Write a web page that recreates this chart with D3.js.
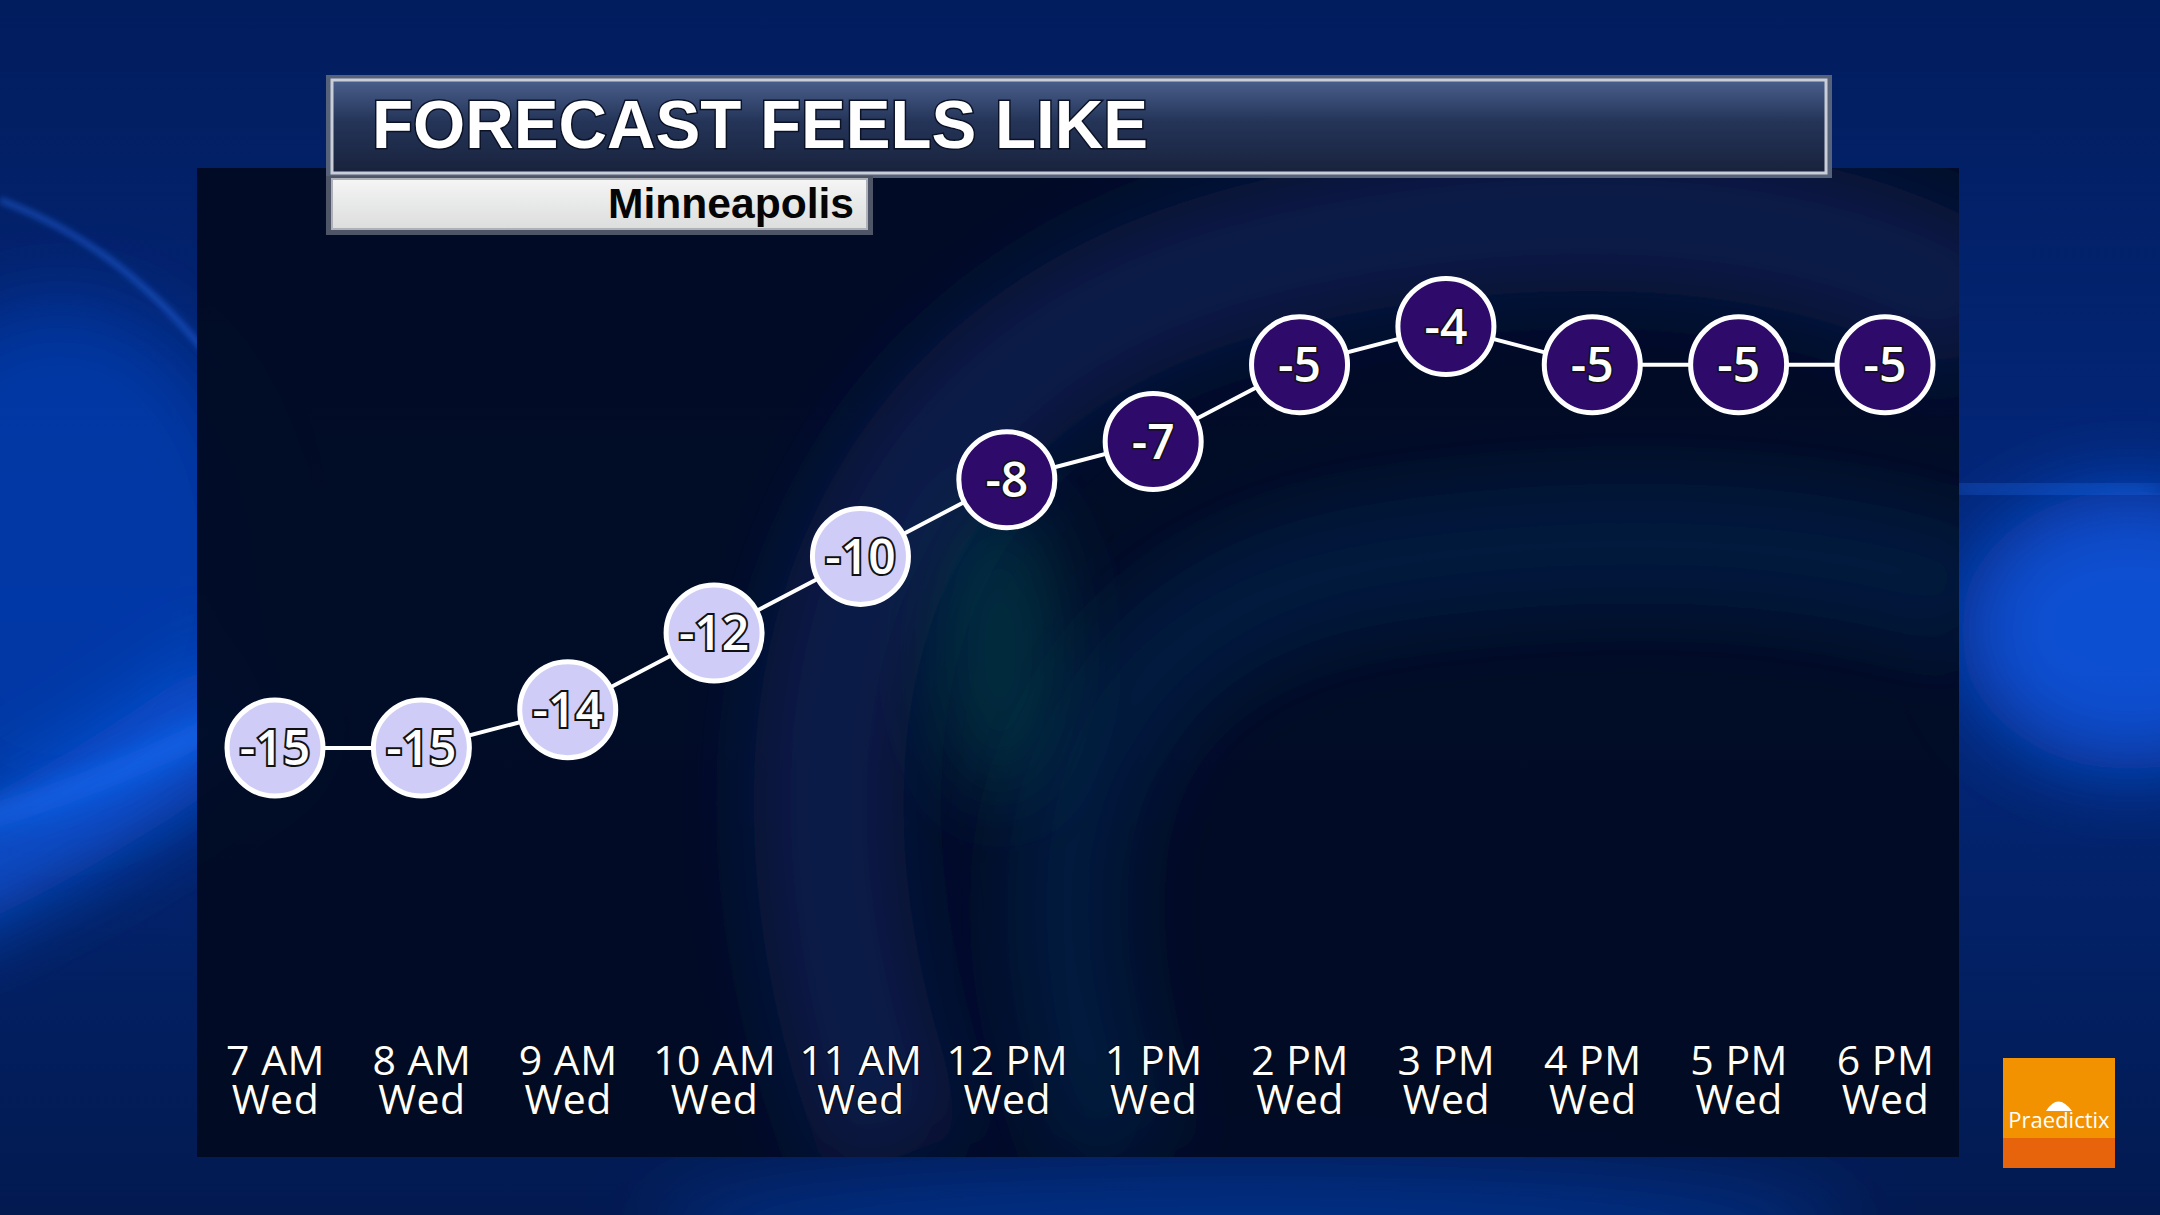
<!DOCTYPE html>
<html>
<head>
<meta charset="utf-8">
<script src="https://cdn.jsdelivr.net/npm/d3@7"></script>
<style>
  html, body { margin: 0; padding: 0; background: #021c58; }
  svg { display: block; }
</style>
</head>
<body>
<svg id="chart" width="2160" height="1215"></svg>
<script>
// data
var hours = ['7 AM','8 AM','9 AM','10 AM','11 AM','12 PM','1 PM','2 PM','3 PM','4 PM','5 PM','6 PM'];
var days = ['Wed','Wed','Wed','Wed','Wed','Wed','Wed','Wed','Wed','Wed','Wed','Wed'];
var feelsLike = [-15,-15,-14,-12,-10,-8,-7,-5,-4,-5,-5,-5];
var title = 'FORECAST FEELS LIKE';
var city = 'Minneapolis';

var W = 2160, H = 1215;
var svg = d3.select('#chart');
var defs = svg.append('defs');

// blur filters for the soft background shapes
defs.append('filter').attr('id','blurBig').attr('x','-50%').attr('y','-50%').attr('width','200%').attr('height','200%')
  .append('feGaussianBlur').attr('stdDeviation',40);
defs.append('filter').attr('id','blurMid').attr('x','-50%').attr('y','-50%').attr('width','200%').attr('height','200%')
  .append('feGaussianBlur').attr('stdDeviation',12);
defs.append('filter').attr('id','blurSmall').attr('x','-50%').attr('y','-50%').attr('width','200%').attr('height','200%')
  .append('feGaussianBlur').attr('stdDeviation',3);

var bg = defs.append('linearGradient').attr('id','bg').attr('x1',0).attr('y1',0).attr('x2',0).attr('y2',1);
bg.append('stop').attr('offset','0%').attr('stop-color','#021d5e');
bg.append('stop').attr('offset','50%').attr('stop-color','#03287e');
bg.append('stop').attr('offset','100%').attr('stop-color','#021a50');

var titleGrad = defs.append('linearGradient').attr('id','titleGrad').attr('x1',0).attr('y1',0).attr('x2',0).attr('y2',1);
titleGrad.append('stop').attr('offset','0%').attr('stop-color','#4a5f8c');
titleGrad.append('stop').attr('offset','45%').attr('stop-color','#243458');
titleGrad.append('stop').attr('offset','100%').attr('stop-color','#18223c');

var subGrad = defs.append('linearGradient').attr('id','subGrad').attr('x1',0).attr('y1',0).attr('x2',0).attr('y2',1);
subGrad.append('stop').attr('offset','0%').attr('stop-color','#f4f5f4');
subGrad.append('stop').attr('offset','100%').attr('stop-color','#dcdedd');

svg.append('rect').attr('width',W).attr('height',H).attr('fill','url(#bg)');

// background light bands
var back = svg.append('g');
back.append('ellipse')   // general left glow
  .attr('cx',60).attr('cy',560).attr('rx',200).attr('ry',260)
  .attr('fill','#0940b8').attr('fill-opacity',0.7).attr('filter','url(#blurBig)');
back.append('path')   // broad bright band lower left, rising to the right
  .attr('d','M-100,900 C40,840 150,770 260,690')
  .attr('fill','none').attr('stroke','#0a5ae6').attr('stroke-width',110).attr('stroke-opacity',0.8)
  .attr('filter','url(#blurBig)');
back.append('path')
  .attr('d','M-60,830 C60,800 150,760 230,720')
  .attr('fill','none').attr('stroke','#1272ff').attr('stroke-width',24).attr('stroke-opacity',0.55)
  .attr('filter','url(#blurMid)');
back.append('path')   // thin streak upper left
  .attr('d','M0,200 C80,230 150,280 220,370')
  .attr('fill','none').attr('stroke','#2a6cf0').attr('stroke-width',5).attr('stroke-opacity',0.6)
  .attr('filter','url(#blurSmall)');
back.append('ellipse')   // right glow
  .attr('cx',2130).attr('cy',630).attr('rx',170).attr('ry',140)
  .attr('fill','#0b55e0').attr('fill-opacity',0.85).attr('filter','url(#blurBig)');
back.append('path')
  .attr('d','M1950,486 L2160,492')
  .attr('fill','none').attr('stroke','#2a78ff').attr('stroke-width',14).attr('stroke-opacity',0.55)
  .attr('filter','url(#blurMid)');
back.append('ellipse')   // bottom glow
  .attr('cx',1250).attr('cy',1230).attr('rx',600).attr('ry',60)
  .attr('fill','#0a48c0').attr('fill-opacity',0.5).attr('filter','url(#blurBig)');

// dark chart panel
var panel = {x:197, y:168, w:1762, h:989};
svg.append('rect').attr('x',panel.x).attr('y',panel.y).attr('width',panel.w).attr('height',panel.h)
  .attr('fill','#010b22').attr('fill-opacity',0.95);

// soft swirl inside the panel, clipped to it
defs.append('clipPath').attr('id','panelClip').append('rect')
  .attr('x',panel.x).attr('y',panel.y).attr('width',panel.w).attr('height',panel.h);
var swirl = svg.append('g').attr('clip-path','url(#panelClip)');
swirl.append('path')
  .attr('d','M900,1157 C760,800 800,380 1250,260 C1600,170 1900,230 2000,330')
  .attr('fill','none').attr('stroke','#0d2c66').attr('stroke-width',150).attr('stroke-opacity',0.55)
  .attr('filter','url(#blurBig)');
swirl.append('path')
  .attr('d','M1120,1157 C1000,850 1080,600 1400,560 C1700,520 1900,560 1990,600')
  .attr('fill','none').attr('stroke','#0c2a60').attr('stroke-width',120).attr('stroke-opacity',0.45)
  .attr('filter','url(#blurBig)');
swirl.append('ellipse')
  .attr('cx',1000).attr('cy',650).attr('rx',60).attr('ry',150)
  .attr('fill','#0a4a55').attr('fill-opacity',0.55).attr('filter','url(#blurBig)');

// title bar
svg.append('rect').attr('x',326).attr('y',75).attr('width',1506).attr('height',103).attr('fill','#56627a');
svg.append('rect').attr('x',332).attr('y',80).attr('width',1494).attr('height',93).attr('fill','url(#titleGrad)')
  .attr('stroke','#c9ced8').attr('stroke-width',3);
svg.append('text').attr('x',372).attr('y',148)
  .attr('font-family','"Liberation Sans", Arial, sans-serif').attr('font-weight','bold')
  .attr('font-size',68).attr('fill','#ffffff')
  .attr('textLength',776).attr('lengthAdjust','spacingAndGlyphs')
  .style('paint-order','stroke').attr('stroke','#0b1226').attr('stroke-width',3)
  .text(title);

// subtitle bar
svg.append('rect').attr('x',326).attr('y',176).attr('width',547).attr('height',59).attr('fill','#4e5566');
svg.append('rect').attr('x',332).attr('y',179).attr('width',535).attr('height',50).attr('fill','url(#subGrad)')
  .attr('stroke','#aeb2b8').attr('stroke-width',2);
svg.append('text').attr('x',854).attr('y',218).attr('text-anchor','end')
  .attr('font-family','"Liberation Sans", Arial, sans-serif').attr('font-weight','bold')
  .attr('font-size',42).attr('fill','#050505')
  .attr('textLength',246).attr('lengthAdjust','spacingAndGlyphs')
  .text(city);

// scales
var x = d3.scalePoint().domain(hours).range([275, 1885]).padding(0);
var y = d3.scaleLinear().domain([-15, -4]).range([748, 326.5]);

// connecting line
var line = d3.line().x(function(d,i){ return x(hours[i]); }).y(function(d){ return y(d); });
svg.append('path').datum(feelsLike).attr('d',line)
  .attr('fill','none').attr('stroke','#ffffff').attr('stroke-width',4);

// points
var pts = svg.selectAll('.pt').data(feelsLike).enter().append('g')
  .attr('class','pt')
  .attr('transform',function(d,i){ return 'translate(' + x(hours[i]) + ',' + y(d) + ')'; });

pts.append('circle').attr('r',48)
  .attr('fill',function(d){ return d <= -10 ? '#cfcdf8' : '#2e0a6b'; })
  .attr('stroke','#ffffff').attr('stroke-width',5);

pts.append('text')
  .attr('text-anchor','middle').attr('dy','0.36em')
  .attr('font-family','"Open Sans", "Noto Sans", sans-serif')
  .attr('font-weight',600)
  .attr('font-size',48).attr('fill','#ffffff')
  .attr('stroke','#111111').attr('stroke-width',function(d){ return d <= -10 ? 4 : 3; })
  .style('paint-order','stroke')
  .text(function(d){ return d; });

// x axis labels (two lines)
var xAxis = svg.append('g').attr('class','x-axis')
  .attr('transform','translate(0,1075)')
  .call(d3.axisBottom(x).tickSize(0).tickPadding(0));
xAxis.select('.domain').remove();
xAxis.selectAll('.tick text').remove();
xAxis.selectAll('.tick').each(function(d,i){
  var g = d3.select(this);
  g.append('text')
    .attr('text-anchor','middle').attr('y',0)
    .attr('font-family','"Open Sans", "Noto Sans", sans-serif')
    .attr('font-size',41).attr('fill','#ffffff').attr('letter-spacing',0.5)
    .attr('stroke','#0a0a0a').attr('stroke-width',2).style('paint-order','stroke')
    .text(d);
  g.append('text')
    .attr('text-anchor','middle').attr('y',39)
    .attr('font-family','"Open Sans", "Noto Sans", sans-serif')
    .attr('font-size',41).attr('fill','#ffffff').attr('letter-spacing',0.5)
    .attr('stroke','#0a0a0a').attr('stroke-width',2).style('paint-order','stroke')
    .text(days[i]);
});

// logo
svg.append('rect').attr('x',2003).attr('y',1058).attr('width',112).attr('height',110).attr('fill','#e8640c');
svg.append('rect').attr('x',2003).attr('y',1058).attr('width',112).attr('height',80).attr('fill','#f39200');
svg.append('path')
  .attr('d','M2046,1111 Q2058,1092 2072,1111 Z')
  .attr('fill','#ffffff');
svg.append('text').attr('x',2059).attr('y',1128).attr('text-anchor','middle')
  .attr('font-family','"Open Sans", "Noto Sans", sans-serif')
  .attr('font-size',22).attr('fill','#ffffff')
  .text('Praedictix');
</script>
</body>
</html>
